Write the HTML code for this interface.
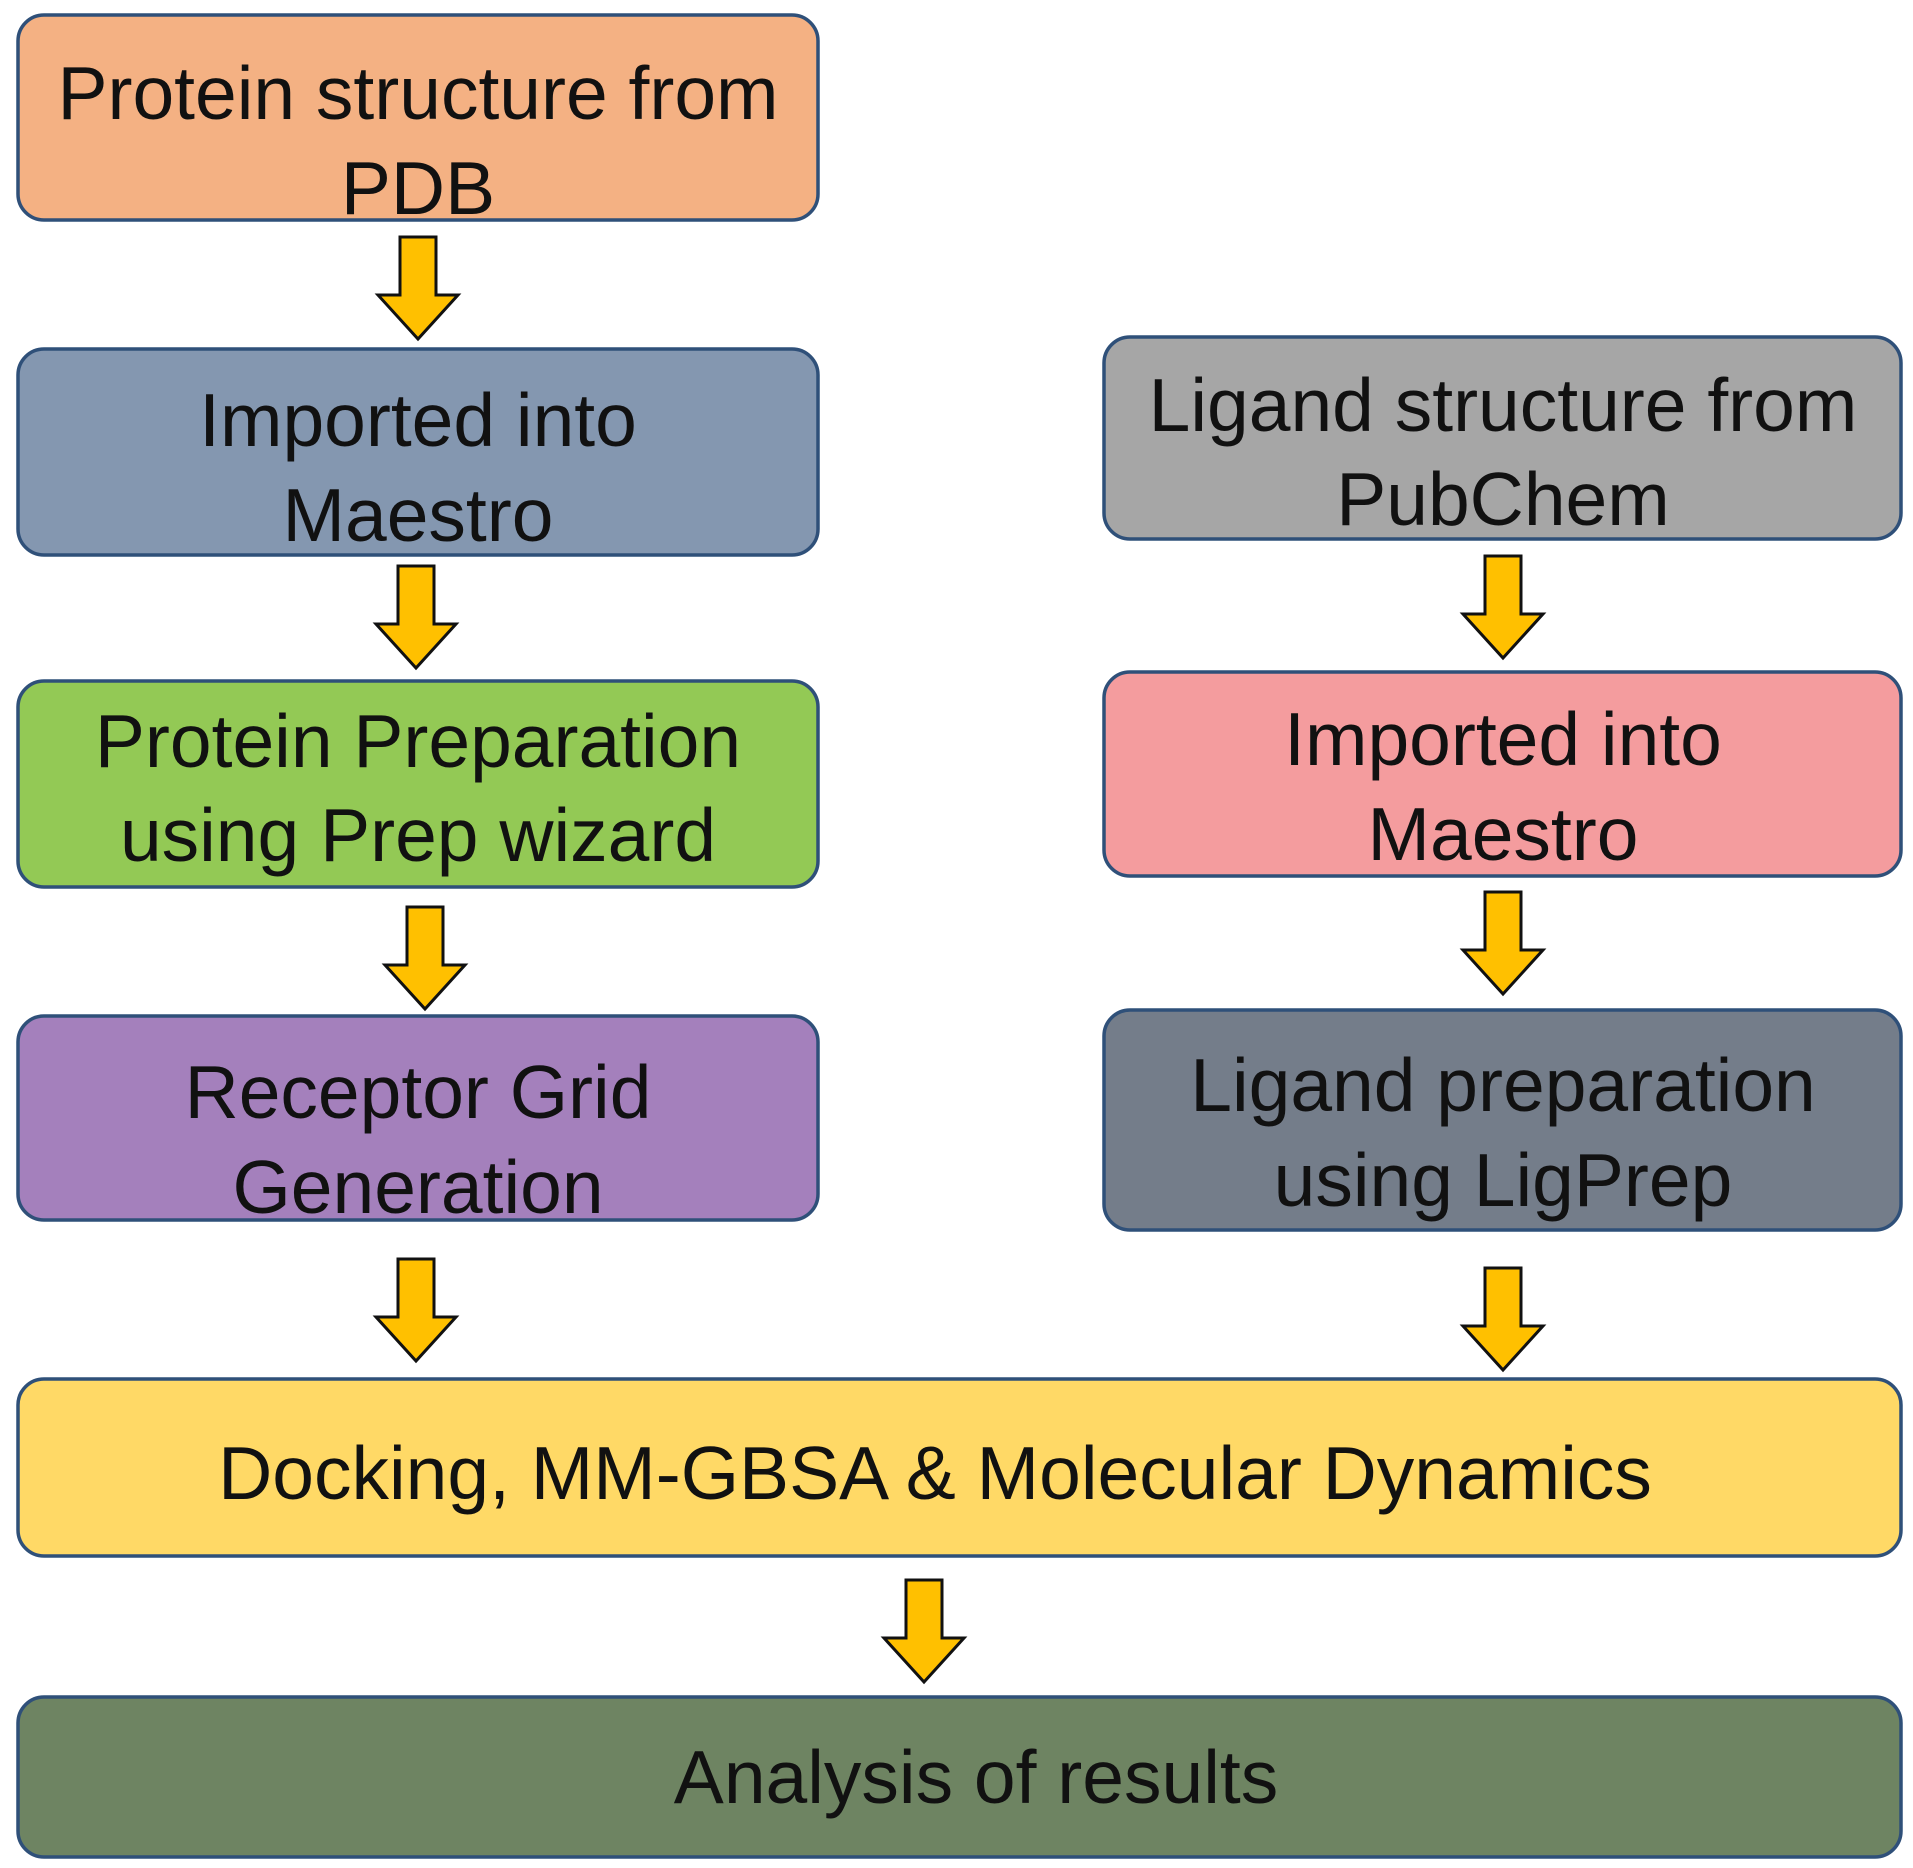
<!DOCTYPE html>
<html><head><meta charset="utf-8"><style>html,body{margin:0;padding:0;background:#fff}</style></head>
<body>
<svg width="1913" height="1863" viewBox="0 0 1913 1863" xmlns="http://www.w3.org/2000/svg" font-family="Liberation Sans, sans-serif" font-size="75" text-anchor="middle" fill="#111">
<defs>
<g id="arr"><path d="M-18,0 H18 V58 H40 L0,102 L-40,58 H-18 Z" fill="#FFC000" stroke="#111" stroke-width="3" stroke-linejoin="miter"/></g>
</defs>
<g stroke="#2F5079" stroke-width="3.5">
<rect x="18" y="15" width="800" height="205" rx="26" fill="#F4B183"/>
<rect x="18" y="349" width="800" height="206" rx="26" fill="#8497B0"/>
<rect x="18" y="681" width="800" height="206" rx="26" fill="#93C955"/>
<rect x="18" y="1016" width="800" height="204" rx="26" fill="#A480BC"/>
<rect x="1104" y="337" width="797" height="202" rx="26" fill="#A6A6A6"/>
<rect x="1104" y="672" width="797" height="204" rx="26" fill="#F49C9E"/>
<rect x="1104" y="1010" width="797" height="220" rx="26" fill="#747D8A"/>
<rect x="18" y="1379" width="1883" height="177" rx="26" fill="#FFD966"/>
<rect x="18" y="1697" width="1883" height="160" rx="26" fill="#6E8462"/>
</g>
<use href="#arr" x="418" y="237"/>
<use href="#arr" x="416" y="566"/>
<use href="#arr" x="425" y="907"/>
<use href="#arr" x="416" y="1259"/>
<use href="#arr" x="1503" y="556"/>
<use href="#arr" x="1503" y="892"/>
<use href="#arr" x="1503" y="1268"/>
<use href="#arr" x="924" y="1580"/>
<text x="418" y="119">Protein structure from</text>
<text x="418" y="214">PDB</text>
<text x="418" y="446">Imported into</text>
<text x="418" y="541">Maestro</text>
<text x="418" y="767">Protein Preparation</text>
<text x="418" y="861">using Prep wizard</text>
<text x="418" y="1118">Receptor Grid</text>
<text x="418" y="1213">Generation</text>
<text x="1503" y="431">Ligand structure from</text>
<text x="1503" y="525">PubChem</text>
<text x="1503" y="765">Imported into</text>
<text x="1503" y="860">Maestro</text>
<text x="1503" y="1111">Ligand preparation</text>
<text x="1503" y="1206">using LigPrep</text>
<text x="935" y="1499">Docking, MM-GBSA &amp; Molecular Dynamics</text>
<text x="976" y="1803">Analysis of results</text>
</svg>
</body></html>
